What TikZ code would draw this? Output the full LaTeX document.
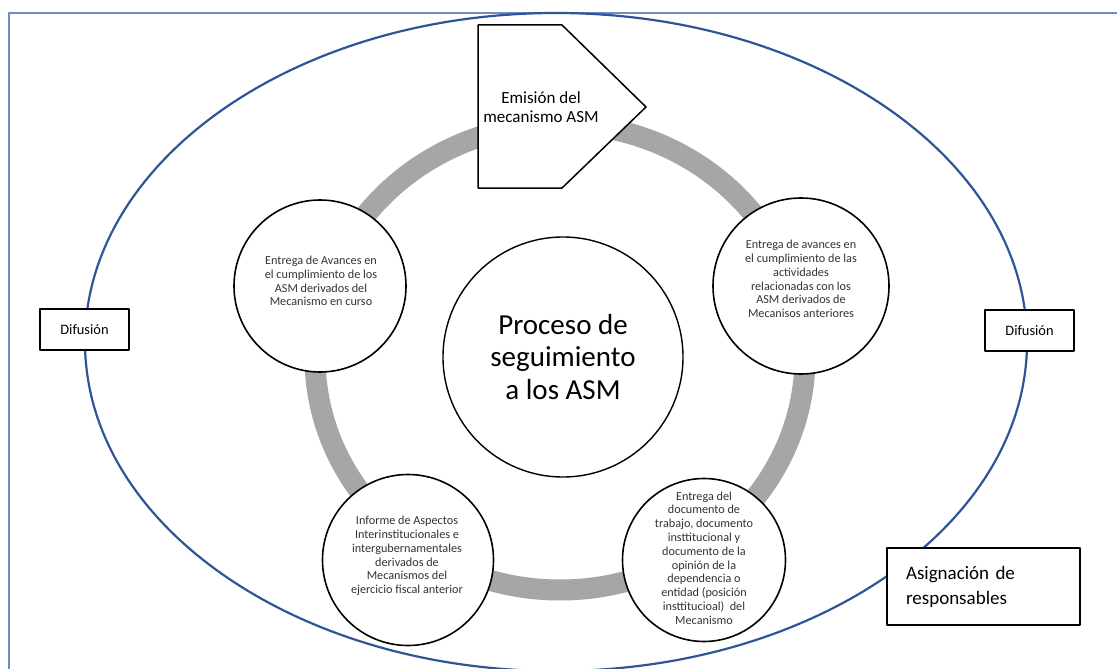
\documentclass[tikz,border=0pt]{standalone}
\usepackage{fontspec}
\setmainfont{Carlito}
\definecolor{marco}{HTML}{6F8CC4}
\definecolor{elipse}{HTML}{2F5597}
\definecolor{anillo}{HTML}{A6A6A6}
\begin{document}
\begin{tikzpicture}[x=1pt,y=-1pt,line join=round,
    bub/.style={draw,circle,fill=white,line width=1.6pt,inner sep=0pt},
    txt/.style={align=center,text=black!80,font=\fontsize{12.2}{13.8}\selectfont},
    caja/.style={draw,fill=white,line width=1.4pt,inner sep=0pt}]
    \useasboundingbox (0,0) rectangle (1117,669);
    \clip (0,0) rectangle (1117,669);
    % marco y elipse exterior
    \draw[marco,line width=1.3pt] (9,13) rectangle (1140,700);
    \draw[elipse,line width=2.2pt] (556,342) ellipse [x radius=471,y radius=329];
    % anillo gris del ciclo
    \draw[anillo,line width=21pt] (560,357) ellipse [x radius=245,y radius=233];
    % centro
    \node[bub,line width=1.4pt,minimum size=240] (centro) at (563,357) {};
    \node[align=center,font=\fontsize{29}{32.5}\selectfont] at (centro) {Proceso de\\seguimiento\\a los ASM};
    % etapas
    \node[bub,minimum size=172] (avance) at (320,286) {};
    \node[txt] at (321,281) {Entrega de Avances en\\el cumplimiento de los\\ASM derivados del\\Mecanismo en curso};
    \node[bub,minimum size=176] (anterior) at (801,286) {};
    \node[txt] at (801,279) {Entrega de avances en\\el cumplimiento de las\\actividades\\relacionadas con los\\ASM derivados de\\Mecanisos anteriores};
    \node[bub,minimum size=171] (informe) at (408,560) {};
    \node[txt] at (407,556) {Informe de Aspectos\\Interinstitucionales e\\intergubernamentales\\derivados de\\Mecanismos del\\ejercicio fiscal anterior};
    \node[bub,minimum size=163] (documento) at (704,560) {};
    \node[txt] at (704,558) {Entrega del\\documento de\\trabajo, documento\\insttitucional y\\documento de la\\opinión de la\\dependencia o\\entidad (posición\\insttitucioal)~ del\\Mecanismo};
    % emision (flecha pentagonal)
    \draw[line width=1.5pt,fill=white] (478,25) -- (562,25) -- (646,107) -- (562,188) -- (478,188) -- cycle;
    \node[align=center,font=\fontsize{17}{19.5}\selectfont] (emision) at (541,107) {Emisión del\\mecanismo ASM};
    % cajas laterales
    \node[caja,minimum width=89,minimum height=41,font=\fontsize{14.4}{16}\selectfont] (difizq) at (84.5,329.5) {Difusión};
    \node[caja,minimum width=89,minimum height=41,font=\fontsize{14.4}{16}\selectfont] (difder) at (1029.5,330.5) {Difusión};
    \node[caja,minimum width=193,minimum height=77,text width=155,align=left,font=\fontsize{19}{25}\selectfont] (asigna) at (983.5,586.5) {Asignación de\\responsables};
\end{tikzpicture}
\end{document}
